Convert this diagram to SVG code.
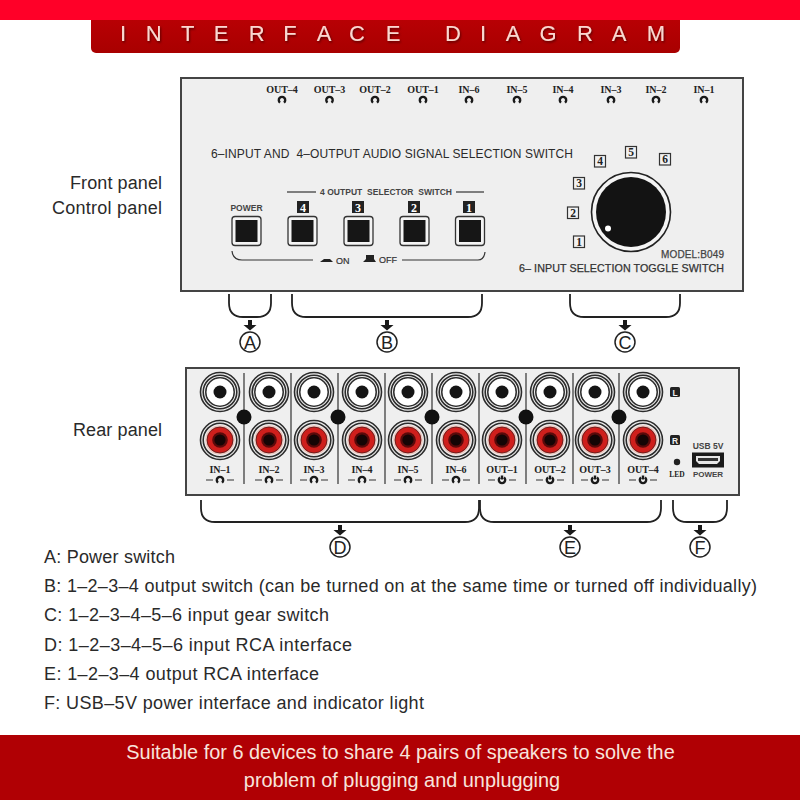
<svg xmlns="http://www.w3.org/2000/svg" width="800" height="800" viewBox="0 0 800 800">
<style>
text{font-family:"Liberation Sans",Arial,sans-serif;fill:#222}
.cap{font-size:18px;fill:#2a2a2a}
.jl{font-family:"Liberation Serif","Times New Roman",serif;font-weight:bold;font-size:10px;text-anchor:middle;fill:#222}
.pt{font-weight:bold;fill:#444;text-anchor:middle}
.panel{fill:#efefef;stroke:#444;stroke-width:2}
.br{fill:none;stroke:#222;stroke-width:1.8}
.ln{stroke:#333;stroke-width:1.2;fill:none}
.ic{fill:none;stroke:#1a1a1a;stroke-width:2.4}
.nb{fill:#f2f2f2;stroke:#333;stroke-width:1.2}
.nt{font-family:"Liberation Serif",serif;font-weight:bold;font-size:11.5px;text-anchor:middle;fill:#222}
.kt{font-family:"Liberation Serif",serif;font-weight:bold;font-size:12px;text-anchor:middle;fill:#fff}
.ring{fill:none;stroke:#2c2c2c;stroke-width:1.6}
.lt{font-size:18px;text-anchor:middle;fill:#222}
.cc{fill:none;stroke:#222;stroke-width:1.5}
</style>
<defs>
<filter id="sh" x="-5%" y="-20%" width="110%" height="150%"><feDropShadow dx="1" dy="1.5" stdDeviation="0.8" flood-color="#5a0000"/></filter>
<linearGradient id="hd" x1="0" y1="0" x2="0" y2="1"><stop offset="0" stop-color="#b80004"/><stop offset="1" stop-color="#a80000"/></linearGradient>
<path id="ph" d="M-2 2.6A3.2 3.2 0 1 1 2 2.6" class="ic"/>
<path id="pho" d="M-2 -2.6A3.2 3.2 0 1 0 2 -2.6M0 -4.5V-0.5" class="ic"/>
<g id="jw"><circle r="19.5" class="ring"/><circle r="16.8" class="ring"/><circle r="14.2" class="ring"/><circle r="13.2" fill="#fff"/><circle r="6.5" fill="#151515"/></g>
<g id="jr"><circle r="19.5" class="ring"/><circle r="16.8" class="ring"/><circle r="14.8" fill="#ecc8c0"/><circle r="13" fill="#cf1f1c" stroke="#511" stroke-width="0.8"/><circle r="7.8" fill="#5a0a0a"/><circle r="5.6" fill="#140505"/></g>
<g id="sw"><rect x="-14.5" y="-14.5" width="29" height="29" rx="3" fill="#f4f4f4" stroke="#333" stroke-width="1.3"/><rect x="-11" y="-11" width="22" height="22" fill="#161616"/></g>
<path id="ar" d="M-2 -5H2V0H6.500L0 5.500L-6.500 0H-2Z" fill="#1a1a1a"/>
</defs>
<rect width="800" height="800" fill="#fff"/>

<g id="header">
<path d="M91 20H680V48a5 5 0 0 1-5 5H96a5 5 0 0 1-5-5Z" fill="url(#hd)"/>
<rect width="800" height="20" fill="#ff0028"/>
<text y="41" font-size="22" text-anchor="middle" style="fill:#fbd8d0" filter="url(#sh)" x="123 153.6 187.8 221 256.6 290 324 357 393 453 483 513 548 585 619 656">INTERFACEDIAGRAM</text>
</g>

<g id="side-labels">
<text class="cap" x="162" y="189" text-anchor="end" textLength="92">Front panel</text>
<text class="cap" x="162" y="214" text-anchor="end" textLength="110">Control panel</text>
<text class="cap" x="162" y="436" text-anchor="end" textLength="89">Rear panel</text>
</g>

<g id="front-panel">
<rect class="panel" x="181" y="78" width="562" height="213"/>
<text class="jl" x="282" y="93">OUT–4</text><text class="jl" x="329.5" y="93">OUT–3</text><text class="jl" x="375" y="93">OUT–2</text><text class="jl" x="423" y="93">OUT–1</text><text class="jl" x="469" y="93">IN–6</text><text class="jl" x="517" y="93">IN–5</text><text class="jl" x="563" y="93">IN–4</text><text class="jl" x="611" y="93">IN–3</text><text class="jl" x="656" y="93">IN–2</text><text class="jl" x="704" y="93">IN–1</text>
<use href="#ph" x="282" y="100"/><use href="#ph" x="329.5" y="100"/><use href="#ph" x="375" y="100"/><use href="#ph" x="423" y="100"/><use href="#ph" x="469" y="100"/><use href="#ph" x="517" y="100"/><use href="#ph" x="563" y="100"/><use href="#ph" x="611" y="100"/><use href="#ph" x="656" y="100"/><use href="#ph" x="704" y="100"/>
<text x="211" y="158" font-size="12" textLength="362" style="fill:#2a2a2a;white-space:pre">6–INPUT AND  4–OUTPUT AUDIO SIGNAL SELECTION SWITCH</text>
<text class="pt" x="246.5" y="211" font-size="8.5">POWER</text>
<line class="ln" x1="287" y1="192" x2="316" y2="192"/><line class="ln" x1="456" y1="192" x2="484" y2="192"/>
<text class="pt" x="320" y="195" font-size="8.5" textLength="132" style="text-anchor:start;white-space:pre">4 OUTPUT  SELECTOR  SWITCH</text>
<g id="sw-power"><use href="#sw" x="246.5" y="231"/></g>
<g id="sw-4"><rect x="297" y="201" width="12" height="12" fill="#222"/><text class="kt" x="303" y="211.500">4</text><use href="#sw" x="302.5" y="231"/></g>
<g id="sw-3"><rect x="352" y="201" width="12" height="12" fill="#222"/><text class="kt" x="358" y="211.500">3</text><use href="#sw" x="358.5" y="231"/></g>
<g id="sw-2"><rect x="408" y="201" width="12" height="12" fill="#222"/><text class="kt" x="414" y="211.500">2</text><use href="#sw" x="414.5" y="231"/></g>
<g id="sw-1"><rect x="463" y="201" width="12" height="12" fill="#222"/><text class="kt" x="469" y="211.500">1</text><use href="#sw" x="470" y="231"/></g>
<path class="ln" d="M232 251Q233 260 242 260H313M402 260H478Q484 260 485 252"/>
<path d="M320 262L324 259H330L333 262Z" fill="#222"/>
<text x="336" y="263.500" font-size="9" style="fill:#333;stroke:#333;stroke-width:0.2">ON</text>
<path d="M363 262H376L374 259V255H366V259Z" fill="#222"/>
<text x="379" y="263" font-size="9" style="fill:#333;stroke:#333;stroke-width:0.2">OFF</text>
<g id="knob">
<circle cx="631" cy="212" r="39.5" fill="#f4f4f4" stroke="#222" stroke-width="1.6"/>
<circle cx="631" cy="212" r="35" fill="#131313"/>
<circle cx="608" cy="228.5" r="3" fill="#fff"/>
</g>
<g><rect class="nb" x="573.5" y="236" width="11" height="11.5"/><text class="nt" x="579" y="245.5">1</text>
<rect class="nb" x="567.5" y="207" width="11" height="11.5"/><text class="nt" x="573" y="216.5">2</text>
<rect class="nb" x="573.5" y="177.5" width="11" height="11.5"/><text class="nt" x="579" y="187">3</text>
<rect class="nb" x="594.5" y="155.5" width="11" height="11.5"/><text class="nt" x="600" y="165">4</text>
<rect class="nb" x="625.5" y="146.5" width="11" height="11.5"/><text class="nt" x="631" y="156">5</text>
<rect class="nb" x="659.5" y="153.5" width="11" height="11.5"/><text class="nt" x="665" y="163">6</text></g>
<text x="724" y="258" font-size="10" text-anchor="end" textLength="63" style="fill:#444;stroke:#444;stroke-width:0.25">MODEL:B049</text>
<text x="724" y="272" font-size="10.7" text-anchor="end" textLength="205" style="fill:#333;stroke:#333;stroke-width:0.25">6– INPUT SELECTION TOGGLE SWITCH</text>
</g>

<g id="rear-panel">
<rect class="panel" x="186" y="368" width="553" height="127"/>
<path class="ln" d="M244 373V484M291 373V484M338 373V484M385 373V484M432 373V484M479 373V484M526 373V484M573 373V484M619 373V484"/>
<use href="#jw" x="220" y="392"/><use href="#jw" x="269" y="392"/><use href="#jw" x="314" y="392"/><use href="#jw" x="362" y="392"/><use href="#jw" x="408" y="392"/><use href="#jw" x="456" y="392"/><use href="#jw" x="502" y="392"/><use href="#jw" x="550" y="392"/><use href="#jw" x="595" y="392"/><use href="#jw" x="643" y="392"/>
<use href="#jr" x="220" y="440"/><use href="#jr" x="269" y="440"/><use href="#jr" x="314" y="440"/><use href="#jr" x="362" y="440"/><use href="#jr" x="408" y="440"/><use href="#jr" x="456" y="440"/><use href="#jr" x="502" y="440"/><use href="#jr" x="550" y="440"/><use href="#jr" x="595" y="440"/><use href="#jr" x="643" y="440"/>
<g fill="#111"><circle cx="244" cy="417" r="7.5"/><circle cx="338" cy="417" r="7.5"/><circle cx="432" cy="417" r="7.5"/><circle cx="526" cy="417" r="7.5"/><circle cx="619" cy="417" r="7.5"/></g>
<text class="jl" x="220" y="473">IN–1</text><text class="jl" x="269" y="473">IN–2</text><text class="jl" x="314" y="473">IN–3</text><text class="jl" x="362" y="473">IN–4</text><text class="jl" x="408" y="473">IN–5</text><text class="jl" x="456" y="473">IN–6</text><text class="jl" x="502" y="473">OUT–1</text><text class="jl" x="550" y="473">OUT–2</text><text class="jl" x="595" y="473">OUT–3</text><text class="jl" x="643" y="473">OUT–4</text>
<use href="#ph" x="220" y="480"/><use href="#ph" x="269" y="480"/><use href="#ph" x="314" y="480"/><use href="#ph" x="362" y="480"/><use href="#ph" x="408" y="480"/><use href="#ph" x="456" y="480"/><use href="#pho" x="502" y="480"/><use href="#pho" x="550" y="480"/><use href="#pho" x="595" y="480"/><use href="#pho" x="643" y="480"/>
<path class="ln" d="M206 480h7M227 480h7M255 480h7M276 480h7M300 480h7M321 480h7M348 480h7M369 480h7M394 480h7M415 480h7M442 480h7M463 480h7M488 480h7M509 480h7M536 480h7M557 480h7M581 480h7M602 480h7M629 480h7M650 480h7"/>
<rect x="670" y="387" width="10" height="10" rx="1.5" fill="#222"/><text x="675" y="395.500" font-size="8.500" font-weight="bold" text-anchor="middle" style="fill:#eee">L</text>
<rect x="670" y="435" width="10" height="10" rx="1.5" fill="#222"/><text x="675" y="443.500" font-size="8.500" font-weight="bold" text-anchor="middle" style="fill:#eee">R</text>
<circle cx="677" cy="462" r="3.2" fill="#222"/>
<text class="jl" x="677" y="477" style="font-size:7.5px">LED</text>
<text class="pt" x="708" y="449" font-size="8.500">USB 5V</text>
<rect x="692" y="452.500" width="32" height="15" fill="#1a1a1a"/>
<path d="M696 456H720V461L717 464H699L696 461Z" fill="#e6e6e6"/>
<rect x="698" y="458" width="20" height="3" fill="#333"/>
<text class="pt" x="708" y="477" font-size="8">POWER</text>
</g>

<g id="connectors">
<path class="br" d="M229 294V303Q229 317 243 317H257Q271 317 271 303V294"/>
<path class="br" d="M292 294V303Q292 317 306 317H468Q482 317 482 303V294"/>
<path class="br" d="M570 294V303Q570 317 584 317H666Q680 317 680 303V294"/>
<path class="br" d="M201 500V508Q201 522 215 522H465Q479 522 479 508V500"/>
<path class="br" d="M480 500V508Q480 522 494 522H647Q661 522 661 508V500"/>
<path class="br" d="M673 500V508Q673 522 687 522H713Q727 522 727 508V500"/>
<use href="#ar" x="250" y="325"/><use href="#ar" x="387" y="325"/><use href="#ar" x="625" y="325"/>
<use href="#ar" x="340" y="530"/><use href="#ar" x="570" y="530"/><use href="#ar" x="700" y="530"/>
</g>

<g id="letter-a"><circle cx="250" cy="342" r="10" class="cc"/><text class="lt" x="250" y="348.500">A</text></g>
<g id="letter-b"><circle cx="387" cy="342" r="10" class="cc"/><text class="lt" x="387" y="348.500">B</text></g>
<g id="letter-c"><circle cx="625" cy="342" r="10" class="cc"/><text class="lt" x="625" y="348.500">C</text></g>
<g id="letter-d"><circle cx="340" cy="547" r="10" class="cc"/><text class="lt" x="340" y="553.500">D</text></g>
<g id="letter-e"><circle cx="570" cy="547" r="10" class="cc"/><text class="lt" x="570" y="553.500">E</text></g>
<g id="letter-f"><circle cx="700" cy="547" r="10" class="cc"/><text class="lt" x="700" y="553.500">F</text></g>

<g id="legend">
<text class="cap" x="44" y="563" textLength="131">A: Power switch</text>
<text class="cap" x="44" y="592" textLength="713">B: 1–2–3–4 output switch (can be turned on at the same time or turned off individually)</text>
<text class="cap" x="44" y="621" textLength="285">C: 1–2–3–4–5–6 input gear switch</text>
<text class="cap" x="44" y="651" textLength="308">D: 1–2–3–4–5–6 input RCA interface</text>
<text class="cap" x="44" y="680" textLength="275">E: 1–2–3–4 output RCA interface</text>
<text class="cap" x="44" y="709" textLength="380">F: USB–5V power interface and indicator light</text>
</g>

<g id="footer">
<rect y="735" width="800" height="65" fill="#b00004"/>
<text x="400.500" y="759" font-size="19.900" text-anchor="middle" style="fill:#f8e4dc">Suitable for 6 devices to share 4 pairs of speakers to solve the</text>
<text x="402" y="787" font-size="19.900" text-anchor="middle" style="fill:#f8e4dc">problem of plugging and unplugging</text>
</g>
</svg>
